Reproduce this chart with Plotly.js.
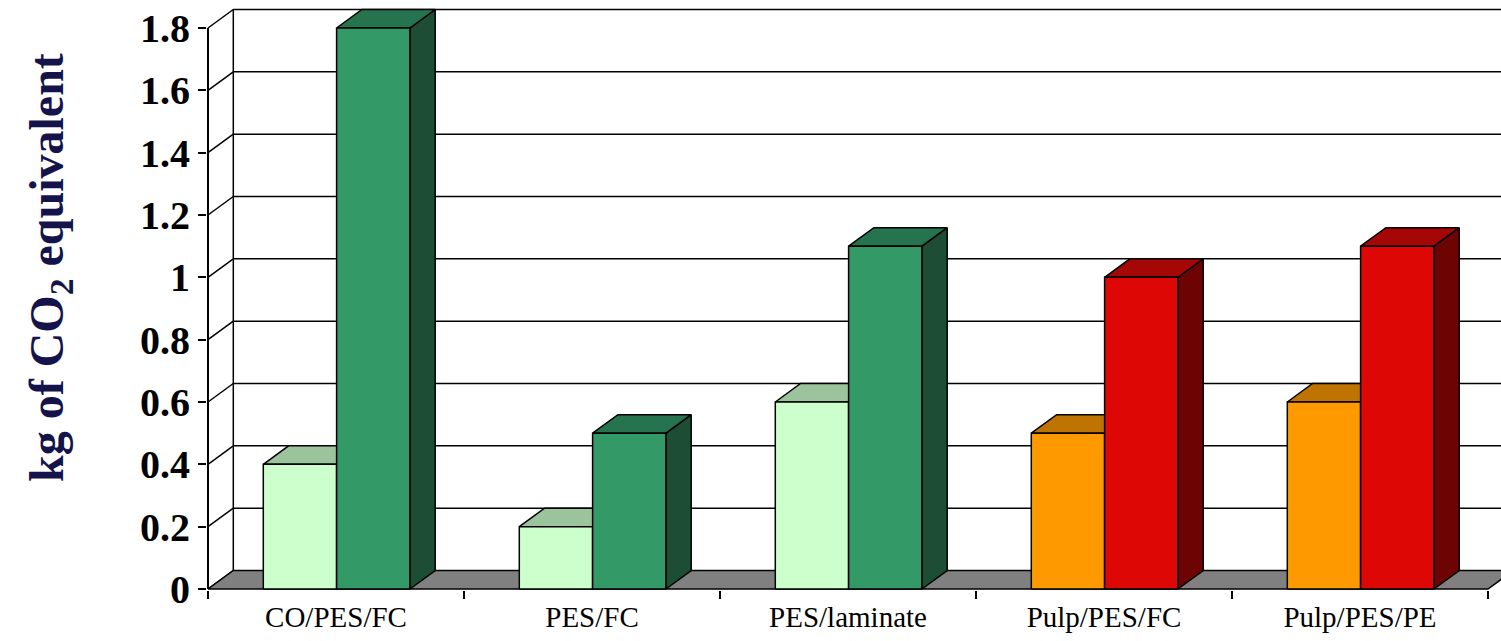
<!DOCTYPE html>
<html>
<head>
<meta charset="utf-8">
<script src="https://cdn.plot.ly/plotly-3.0.1.min.js"></script>
<style>html,body{margin:0;padding:0;background:#fff;}#chart{width:1501px;height:641px;}</style>
</head>
<body>
<div id="chart"></div>
<script>
// ---- data ----
const categories = ['CO/PES/FC', 'PES/FC', 'PES/laminate', 'Pulp/PES/FC', 'Pulp/PES/PE'];
const seriesLight = [0.4, 0.2, 0.6, 0.5, 0.6];
const seriesDark  = [1.8, 0.5, 1.1, 1.0, 1.1];
const yTickVals = [0, 0.2, 0.4, 0.6, 0.8, 1, 1.2, 1.4, 1.6, 1.8];
const yTickText = ['0', '0.2', '0.4', '0.6', '0.8', '1', '1.2', '1.4', '1.6', '1.8'];
const yTitle = 'kg of CO<sub>2</sub> equivalent';

// ---- palette (front, top, side) per category ----
const lightPalette = [
  ['#CCFFCC', '#9CC49C', '#80A080'],
  ['#CCFFCC', '#9CC49C', '#80A080'],
  ['#CCFFCC', '#9CC49C', '#80A080'],
  ['#FF9900', '#BF7300', '#8A5200'],
  ['#FF9900', '#BF7300', '#8A5200']
];
const darkPalette = [
  ['#339966', '#267350', '#1D4D35'],
  ['#339966', '#267350', '#1D4D35'],
  ['#339966', '#267350', '#1D4D35'],
  ['#DD0806', '#A50606', '#6E0303'],
  ['#DD0806', '#A50606', '#6E0303']
];

// ---- 3D geometry (in axis units) ----
const DX = 25.3 / 256;      // depth offset along x
const DY = 18.5 / 311.67;   // depth offset along y
const BAR_W = 73.3 / 256;
const GROUP_OFF = 55.3 / 256;
const X_LEFT = -0.5, X_RIGHT = categories.length - 0.5;
const Y_MAX = yTickVals[yTickVals.length - 1];

const traces = [];
function poly(xs, ys, fill) {
  traces.push({
    type: 'scatter', mode: 'lines',
    x: xs.concat([xs[0]]), y: ys.concat([ys[0]]),
    fill: 'toself', fillcolor: fill,
    line: {color: '#000', width: 1.5},
    hoverinfo: 'skip', showlegend: false
  });
}
function lines(xs, ys, w) {
  traces.push({
    type: 'scatter', mode: 'lines', x: xs, y: ys,
    line: {color: '#000', width: w || 1.5},
    hoverinfo: 'skip', showlegend: false
  });
}

// walls: back gridlines, side-wall diagonals, back-left edge
{
  const gx = [], gy = [];
  yTickVals.forEach(v => {
    if (v > 0) { gx.push(X_LEFT + DX, X_RIGHT + DX, null); gy.push(v + DY, v + DY, null); }
    gx.push(X_LEFT, X_LEFT + DX, null); gy.push(v, v + DY, null);
  });
  gx.push(X_LEFT + DX, X_LEFT + DX); gy.push(DY, Y_MAX + DY);
  lines(gx, gy, 1.5);
}

// floor
poly([X_LEFT, X_RIGHT, X_RIGHT + DX, X_LEFT + DX], [0, 0, DY, DY], '#808080');

// bars
function bar(x0, v, pal) {
  const x1 = x0 + BAR_W;
  poly([x1, x1 + DX, x1 + DX, x1], [0, DY, v + DY, v], pal[2]);           // side
  poly([x0, x1, x1 + DX, x0 + DX], [v, v, v + DY, v + DY], pal[1]);       // top
  poly([x0, x1, x1, x0], [0, 0, v, v], pal[0]);                           // front
}
categories.forEach((c, i) => {
  const x0 = i - 0.5 + GROUP_OFF;
  bar(x0, seriesLight[i], lightPalette[i]);
  bar(x0 + BAR_W, seriesDark[i], darkPalette[i]);
});

// front value axis line
lines([X_LEFT, X_LEFT], [0, Y_MAX], 2);

const boundaries = categories.map((c, i) => i - 0.5).concat([X_RIGHT]);
const serif = 'Liberation Serif, Times New Roman, serif';

const layout = {
  width: 1501, height: 641,
  margin: {l: 207, r: 0, t: 0, b: 51, pad: 0},
  paper_bgcolor: '#ffffff', plot_bgcolor: '#ffffff',
  showlegend: false,
  xaxis: {
    range: [X_LEFT - 1 / 256, X_LEFT + (1501 - 208) / 256],
    tickmode: 'array', tickvals: categories.map((c, i) => i), ticktext: categories,
    ticks: 'outside', ticklen: 1, tickcolor: 'rgba(0,0,0,0)',
    tickfont: {family: serif, size: 29, color: '#000'},
    minor: {tickmode: 'array', tickvals: boundaries, ticks: 'outside', ticklen: 8, tickwidth: 2, tickcolor: '#000', showgrid: false},
    showgrid: false, zeroline: false, showline: false, fixedrange: true
  },
  yaxis: {
    range: [-1 / 311.67, 589 / 311.67],
    tickmode: 'array', tickvals: yTickVals, ticktext: yTickText,
    ticks: 'outside', ticklen: 8, tickwidth: 2, tickcolor: '#000',
    tickfont: {family: serif, size: 40, color: '#000', weight: 'bold'},
    showgrid: false, zeroline: false, showline: false, fixedrange: true
  },
  annotations: [{
    text: yTitle, textangle: -90,
    xref: 'paper', yref: 'paper',
    x: (50 - 207) / 1294, y: (590 - 268) / 590,
    xanchor: 'center', yanchor: 'middle', showarrow: false,
    font: {family: serif, size: 48, color: '#14144B', weight: 'bold'}
  }]
};

Plotly.newPlot('chart', traces, layout, {displayModeBar: false, staticPlot: true});
</script>
</body>
</html>
